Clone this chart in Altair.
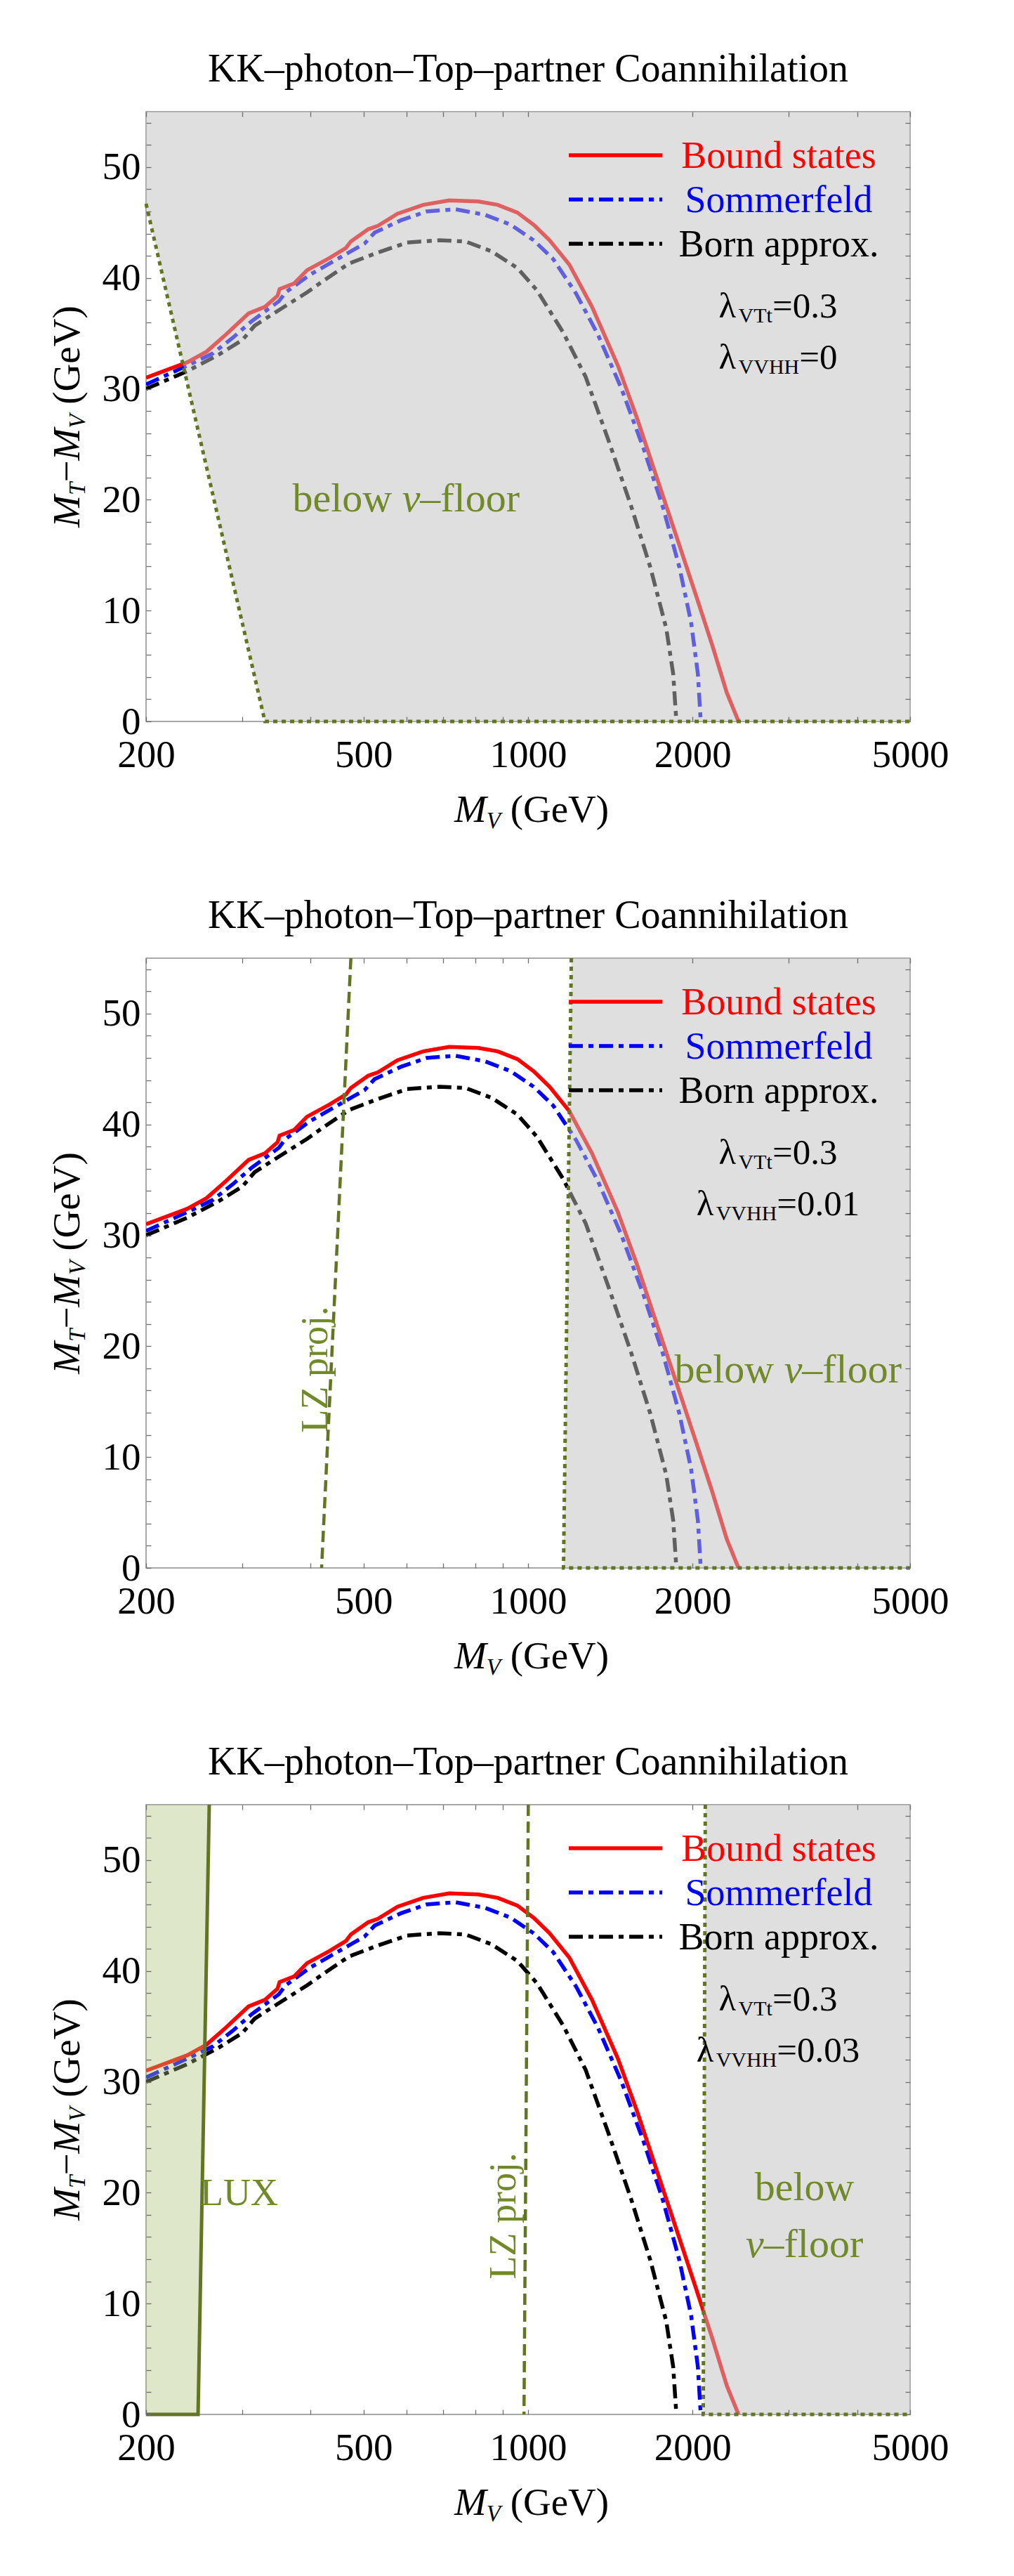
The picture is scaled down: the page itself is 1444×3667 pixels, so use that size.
import altair as alt
import pandas as pd

# ---------------- data ----------------
bound_mv = [200, 238, 258, 280, 308, 330, 348, 351, 373, 394, 433, 464, 474, 510, 531, 577, 643, 717,
            811, 880, 956, 1024, 1095, 1190, 1309, 1460, 1584, 1720, 1868, 2028, 2172, 2310, 2427]
bound_val = [31.0, 32.4, 33.35, 34.9, 36.8, 37.4, 38.4, 39.0, 39.5, 40.7, 41.8, 42.7, 43.3, 44.4, 44.7, 45.8,
             46.6, 47.0, 46.9, 46.6, 45.9, 44.8, 43.4, 41.2, 37.4, 32.1, 27.3, 22.0, 16.7, 11.4, 6.9, 2.6, 0.0]

somm_mv = [200, 238, 265, 288, 312, 350, 360, 399, 470, 502, 524, 585, 652, 736, 834, 930, 1024, 1112,
           1224, 1342, 1480, 1630, 1768, 1892, 1988, 2045, 2070]
somm_val = [30.4, 32.1, 33.2, 34.6, 36.1, 37.9, 38.7, 40.3, 42.3, 43.1, 44.1, 45.2, 46.0, 46.2, 45.7, 44.8,
            43.4, 41.7, 38.6, 34.9, 30.1, 24.5, 19.2, 13.9, 8.9, 4.3, 0.0]

born_mv = [200, 238, 272, 300, 316, 350, 394, 421, 470, 531, 601, 689, 768, 858, 956, 1038, 1159, 1274,
           1400, 1542, 1674, 1790, 1843, 1868]
born_val = [30.0, 31.6, 33.1, 34.4, 35.7, 37.1, 38.7, 39.7, 41.3, 42.3, 43.2, 43.4, 43.3, 42.4, 40.9, 38.9,
            35.1, 31.1, 25.5, 19.5, 13.9, 8.4, 4.3, 0.0]

series_names = ["Bound states", "Sommerfeld", "Born approx."]
title_text = "KK–photon–Top–partner Coannihilation"
lambda_vtt = "0.3"
lambda_vvhh = ["0", "0.01", "0.03"]

# neutrino-floor boundaries (M_V, value): slanted edge, then along the bottom
floor_mv = [[200, 330, 5000], [1200, 1161, 5000], [2110, 2092, 5000]]
floor_val = [[46.7, 0, 0], [55, 0, 0], [55, 0, 0]]
# LZ projection lines
lz_mv = [None, [474, 419], [1001, 983]]
lz_val = [None, [55, 0], [55, 0]]
# LUX exclusion boundary (panel 3)
lux_mv = [261, 249, 200]
lux_val = [55, 0, 0]

# annotation anchors (M_V, value); "ν" is set in italic
floor_label = [[("below ", "ν", "–floor", 598, 20.0)],
               [("below ", "ν", "–floor", 2990, 17.8)],
               [("below", "", "", 3204, 20.4), ("", "ν", "–floor", 3204, 15.3)]]
lz_label = [None, ("LZ proj.", 409, 17.9), ("LZ proj.", 904, 17.9)]
lux_label = ("LUX", 296, 19.9)

# ---------------- styling ----------------
FONT = "Liberation Serif"
W, H = 1088, 868
XMIN, XMAX, YMIN, YMAX = 200, 5000, 0, 55
OLIVE_LINE = "#617522"
OLIVE_TEXT = "#72892a"
DASHDOT = [20, 8, 7, 8]
LW = 5.5

xs = alt.Scale(type="log", domain=[XMIN, XMAX], nice=False)
ys = alt.Scale(domain=[YMIN, YMAX], nice=False, zero=False)

REG = {"λ": 0.55, "=": 0.564, ".": 0.25, " ": 0.25, "(": 0.333, ")": 0.333, "G": 0.722,
       "e": 0.444, "V": 0.722, "T": 0.611, "t": 0.278, "H": 0.722, "−": 0.564, "–": 0.5,
       "b": 0.5, "l": 0.278, "o": 0.5, "w": 0.722, "f": 0.333, "r": 0.333}
ITA = {"M": 0.833, "T": 0.556, "V": 0.611, "ν": 0.44}


def width(s, size, style):
    tab = ITA if style == "italic" else REG
    return sum(tab.get(c, 0.5) for c in s) * size


def one(s):
    return pd.DataFrame({"t": [s]})


def ptext(s, x, y, size, color="black", style="normal", align="left", angle=0, dx=0, dy=0,
          baseline="alphabetic"):
    kw = dict(font=FONT, fontSize=size, color=color, fontStyle=style, align=align, baseline=baseline)
    if dx:
        kw["dx"] = dx
    if dy:
        kw["dy"] = dy
    if angle:
        kw["angle"] = angle
    return alt.Chart(one(s)).mark_text(**kw).encode(text="t:N", x=alt.value(x), y=alt.value(y))


def rich(pieces, x, y, angle=0):
    total = sum(width(s, sz, st) for s, sz, st, _ in pieces)
    off = -total / 2
    out = []
    for s, sz, st, low in pieces:
        lead = len(s) - len(s.lstrip(" "))
        off += width(" " * lead, sz, st)
        body = s.lstrip(" ")
        if angle:
            out.append(ptext(body, x, y, sz, style=st, angle=angle, dx=off, dy=low))
        else:
            out.append(ptext(body, x + off, y + low, sz, style=st))
        off += width(body, sz, st)
    return out


def curve_df(mv, val):
    return pd.DataFrame({"MV": mv, "val": val})


def path_df(mv, val):
    return pd.DataFrame({"MV": mv, "val": val, "i": list(range(len(mv)))})


def curve(mv, val, color, dash):
    kw = dict(color=color, strokeWidth=LW, clip=True, strokeCap="butt")
    if dash:
        kw["strokeDash"] = dash
    return alt.Chart(curve_df(mv, val)).mark_line(**kw).encode(
        x=alt.X("MV:Q", scale=xs, axis=None), y=alt.Y("val:Q", scale=ys, axis=None))


def path(mv, val, color, width_, dash=None):
    kw = dict(color=color, strokeWidth=width_, strokeCap="butt")
    if dash:
        kw["strokeDash"] = dash
    return alt.Chart(path_df(mv, val)).mark_line(**kw).encode(
        x=alt.X("MV:Q", scale=xs, axis=None), y=alt.Y("val:Q", scale=ys, axis=None), order="i:Q")


def band(mv, val, edge, color, opacity):
    # region between the slanted edge (first two points) and a vertical plot edge
    pts = sorted(zip(val[:2], mv[:2]))
    vals = [p[0] for p in pts]
    mvs = [p[1] for p in pts]
    if vals[-1] < YMAX:
        vals.append(YMAX)
        mvs.append(mvs[-1])
    df = pd.DataFrame({"val": vals, "MV": mvs, "edge": [edge] * len(vals)})
    return alt.Chart(df).mark_area(orient="horizontal", color=color, opacity=opacity).encode(
        y=alt.Y("val:Q", scale=ys, axis=None), x=alt.X("MV:Q", scale=xs, axis=None), x2="edge:Q")


def dtext(s, mv, val, size, angle=0, style="normal", align="center", dx=0):
    kw = dict(font=FONT, fontSize=size, color=OLIVE_TEXT, align=align, baseline="middle", fontStyle=style)
    if angle:
        kw["angle"] = angle
    if dx:
        kw["dx"] = dx
    df = pd.DataFrame({"MV": [mv], "val": [val], "t": [s]})
    return alt.Chart(df).mark_text(**kw).encode(
        x=alt.X("MV:Q", scale=xs, axis=None), y=alt.Y("val:Q", scale=ys, axis=None), text="t:N")


def drich(parts, mv, val, size):
    # parts: list of (text, style); centred on (mv, val)
    widths = [width(s, size, st) for s, st in parts]
    off = -sum(widths) / 2
    out = []
    for (s, st), w in zip(parts, widths):
        lead = len(s) - len(s.lstrip(" "))
        off += width(" " * lead, size, st)
        body = s.lstrip(" ")
        if body:
            out.append(dtext(body, mv, val, size, style=st, align="left", dx=off))
        off += width(body, size, st)
    return out


X_TICKS = [200, 300, 400, 500, 600, 700, 800, 900, 1000, 2000, 3000, 4000, 5000]
Y_TICKS = list(range(0, 56, 2))
common_axis = dict(domain=False, grid=False, tickSize=7, offset=-7, tickColor="#6e6e6e", tickWidth=1.3,
                   labelFont=FONT, labelFontSize=55, labelColor="black", title=None, zindex=1,
                   labelFlush=False, labelOverlap=False)

bottom_axis = alt.Axis(orient="bottom", values=X_TICKS, labelPadding=21,
                       labelExpr="indexof([200,500,1000,2000,5000], datum.value) >= 0 ? '' + datum.value : ''",
                       **common_axis)
left_axis = alt.Axis(orient="left", values=Y_TICKS, labelPadding=8,
                     labelExpr="datum.value % 10 == 0 ? '' + datum.value : ''", **common_axis)
top_axis = alt.Axis(orient="top", values=X_TICKS, labels=False, **common_axis)
right_axis = alt.Axis(orient="right", values=Y_TICKS, labels=False, **common_axis)


def panel(k):
    base = curve_df(bound_mv, bound_val)
    layers = [
        alt.Chart(base).mark_point(opacity=0).encode(
            x=alt.X("MV:Q", scale=xs, axis=bottom_axis), y=alt.Y("val:Q", scale=ys, axis=left_axis)),
        alt.Chart(base).mark_point(opacity=0).encode(
            x=alt.X("MV:Q", scale=xs, axis=top_axis), y=alt.Y("val:Q", scale=ys, axis=right_axis)),
        curve(born_mv, born_val, "black", DASHDOT),
        curve(somm_mv, somm_val, "blue", DASHDOT),
        curve(bound_mv, bound_val, "red", None),
    ]
    # shaded regions (drawn over the curves, semi-transparent)
    if k == 2:
        layers.append(band(lux_mv, lux_val, XMIN, "#a8c070", 0.38))
    layers.append(band(floor_mv[k], floor_val[k], XMAX, "#c0c0c0", 0.5))
    # boundaries
    layers.append(path(floor_mv[k], floor_val[k], OLIVE_LINE, 5, [6, 6]))
    if lz_mv[k]:
        layers.append(path(lz_mv[k], lz_val[k], OLIVE_LINE, 4.5, [16, 8]))
    if k == 2:
        layers.append(path(lux_mv, lux_val, OLIVE_LINE, 5))
    # annotations
    for a, nu, b, mv, v in floor_label[k]:
        layers += drich([(a, "normal"), (nu, "italic"), (b, "normal")], mv, v, 58)
    if lz_label[k]:
        s, mv, v = lz_label[k]
        layers.append(dtext(s, mv, v, 54, angle=270))
    if k == 2:
        s, mv, v = lux_label
        layers.append(dtext(s, mv, v, 54))
    # legend
    colors = ["red", "blue", "black"]
    dashes = [None, DASHDOT, DASHDOT]
    for j, (name, c, d) in enumerate(zip(series_names, colors, dashes)):
        yy = 62 + 63 * j
        kw = dict(color=c, strokeWidth=LW, strokeCap="butt")
        if d:
            kw["strokeDash"] = d
        layers.append(alt.Chart(one(name)).mark_rule(**kw).encode(
            x=alt.value(602), x2=alt.value(735), y=alt.value(yy)))
        layers.append(ptext(name, 901, yy + 18, 54, color=c, align="center"))
    # coupling labels
    layers += rich([("λ", 51, "normal", 0), ("VTt", 30, "normal", 7), ("=" + lambda_vtt, 51, "normal", 0)],
                   900, 293)
    layers += rich([("λ", 51, "normal", 0), ("VVHH", 30, "normal", 7), ("=" + lambda_vvhh[k], 51, "normal", 0)],
                   900, 366)
    # axis titles
    layers += rich([("M", 55, "italic", 0), ("V", 33, "italic", 9), (" (GeV)", 55, "normal", 0)],
                   549, H + 143)
    layers += rich([("M", 55, "italic", 0), ("T", 33, "italic", 8), ("−", 55, "normal", 0),
                    ("M", 55, "italic", 0), ("V", 33, "italic", 8), (" (GeV)", 55, "normal", 0)],
                   -95, H / 2, angle=270)
    return alt.layer(*layers).resolve_axis(x="independent", y="independent").properties(
        width=W, height=H,
        title=alt.TitleParams(title_text, font=FONT, fontSize=56, fontWeight="normal", color="black",
                              anchor="middle", frame="group", offset=20))


chart = alt.vconcat(panel(0), panel(1), panel(2), spacing=88).configure(
    padding={"left": 68, "top": 70, "right": 5, "bottom": 5}, font=FONT
).configure_view(stroke="#8c8c8c", strokeWidth=1.5)

chart.save("out.html", embed_options={"renderer": "svg", "actions": False})
